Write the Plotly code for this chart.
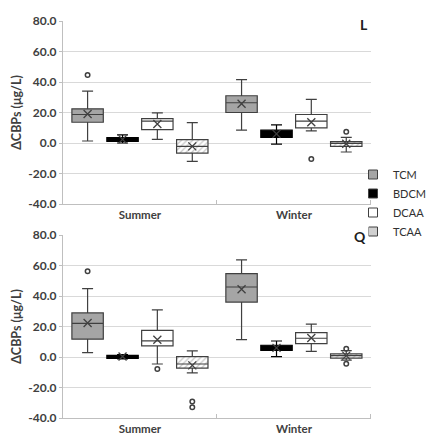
import plotly.graph_objects as go

seasons = ["Summer", "Winter"]
series = ["TCM", "BDCM", "DCAA", "TCAA"]

# Panel L: [series][season]
L_lower  = [[1.3, 8.4], [0.0, -0.7], [2.4, 7.9], [-12.0, -5.9]]
L_q1     = [[13.6, 20.0], [1.1, 3.7], [8.8, 9.9], [-6.6, -2.2]]
L_median = [[18.7, 26.4], [2.2, 6.0], [14.3, 14.3], [-2.2, -0.2]]
L_q3     = [[22.4, 31.0], [3.5, 8.4], [16.0, 18.7], [2.2, 0.9]]
L_upper  = [[34.0, 41.5], [5.3, 11.9], [19.8, 28.6], [13.4, 3.7]]
L_mean   = [[19.0, 25.7], [2.4, 6.0], [12.5, 13.6], [-2.2, -0.5]]
L_out_series = [0, 2, 3]
L_out_season = [0, 1, 1]
L_out_values = [44.6, -10.5, 7.3]

# Panel Q: [series][season]
Q_lower  = [[2.9, 11.4], [-1.3, 0.2], [-4.6, 3.7], [-10.4, -2.0]]
Q_q1     = [[11.7, 36.0], [-0.9, 4.4], [7.3, 8.8], [-7.3, -0.7]]
Q_median = [[22.0, 45.9], [0.2, 6.0], [10.6, 12.3], [-4.6, 0.9]]
Q_q3     = [[28.9, 54.7], [1.1, 7.7], [17.4, 16.0], [0.2, 2.0]]
Q_upper  = [[44.8, 63.7], [1.5, 10.5], [30.9, 21.5], [4.0, 4.2]]
Q_mean   = [[22.3, 44.4], [0.3, 6.0], [11.3, 12.5], [-5.5, 0.9]]
Q_out_series = [0, 2, 3, 3, 3, 3]
Q_out_season = [0, 0, 0, 0, 1, 1]
Q_out_values = [56.3, -7.9, -29.1, -32.9, 5.4, -4.4]

y_ticks = [-40, -20, 0, 20, 40, 60, 80]
y_ticktext = [f"{v:.1f}" for v in y_ticks]

# styling
offsets = [-0.34, -0.113, 0.113, 0.34]
box_w = 0.204
fills = ["#a5a5a5", "#000000", "#ffffff", "rgba(0,0,0,0)"]
legend_fills = ["#a5a5a5", "#000000", "#ffffff", "#d0d0d0"]
edge = "#404040"
font_family = "Lato, 'Open Sans', sans-serif"
txt = "#404040"

fig = go.Figure()

panels = [
    ("x", "y", L_lower, L_q1, L_median, L_q3, L_upper, L_mean, L_out_series, L_out_season, L_out_values),
    ("x2", "y2", Q_lower, Q_q1, Q_median, Q_q3, Q_upper, Q_mean, Q_out_series, Q_out_season, Q_out_values),
]

# hatch for TCAA (bars under boxes)
for xa, ya, lo, q1, med, q3, up, mn, os_, oss, ov in panels:
    k = 3
    pos = [i + offsets[k] for i in range(len(seasons))]
    fig.add_trace(go.Bar(
        x=pos, y=[q3[k][i] - q1[k][i] for i in range(len(seasons))],
        base=q1[k], width=box_w, xaxis=xa, yaxis=ya, showlegend=False,
        marker=dict(color="white", line=dict(width=0),
                    pattern=dict(shape="/", fgcolor="#8a8a8a", bgcolor="white", size=4, solidity=0.3)),
        hoverinfo="skip"))

for xa, ya, lo, q1, med, q3, up, mn, os_, oss, ov in panels:
    for k, name in enumerate(series):
        pos = [i + offsets[k] for i in range(len(seasons))]
        fig.add_trace(go.Box(
            x=pos, q1=q1[k], median=med[k], q3=q3[k],
            lowerfence=lo[k], upperfence=up[k],
            width=box_w, whiskerwidth=0.35, boxpoints=False,
            fillcolor=fills[k], line=dict(color=edge if k != 1 else "#000000", width=1.2),
            xaxis=xa, yaxis=ya, showlegend=False, name=name))

for xa, ya, lo, q1, med, q3, up, mn, os_, oss, ov in panels:
    mx, my = [], []
    for k in range(len(series)):
        for i in range(len(seasons)):
            mx.append(i + offsets[k])
            my.append(mn[k][i])
    fig.add_trace(go.Scatter(
        x=mx, y=my, mode="markers", xaxis=xa, yaxis=ya, showlegend=False,
        marker=dict(symbol="x-thin-open", size=8, color=edge, line=dict(color=edge, width=1.3)),
        hoverinfo="skip"))
    fig.add_trace(go.Scatter(
        x=[oss[j] + offsets[os_[j]] for j in range(len(ov))], y=ov,
        mode="markers", xaxis=xa, yaxis=ya, showlegend=False,
        marker=dict(symbol="circle-open", size=4.5, color=edge, line=dict(color=edge, width=1.5)),
        hoverinfo="skip"))

# legend entries
for k, name in enumerate(series):
    fig.add_trace(go.Scatter(
        x=[None], y=[None], mode="markers", name=name,
        marker=dict(symbol="square", size=9, color=legend_fills[k], line=dict(color=edge, width=1))))

W, H = 432, 436
xdom = [64 / W, 377 / W]
ydom_top = [1 - 204 / H, 1 - 21 / H]
ydom_bot = [1 - 418 / H, 1 - 235 / H]

xcommon = dict(range=[-0.5, 1.5], tickvals=list(range(len(seasons))), ticktext=seasons,
               showgrid=False, zeroline=False, showline=True, linecolor="#bfbfbf", linewidth=1,
               ticks="", automargin=False,
               tickfont=dict(family=font_family, size=11.5, color=txt, weight="bold"),
               minor=dict(tick0=0.5, dtick=1, ticks="inside", ticklen=4, tickcolor="#bfbfbf", showgrid=False),
               domain=xdom, fixedrange=True)
ycommon = dict(range=[-40, 80], tickvals=y_ticks, ticktext=y_ticktext,
               showgrid=True, gridcolor="#d9d9d9", gridwidth=1, zeroline=False,
               showline=True, linecolor="#bfbfbf", linewidth=1, automargin=False,
               ticks="outside", ticklen=3, tickcolor="#bfbfbf",
               tickfont=dict(family=font_family, size=12, color=txt, weight="bold"),
               title=dict(text="ΔCBPs (μg/L)", standoff=3,
                          font=dict(family=font_family, size=12.5, color=txt, weight="bold")),
               fixedrange=True)

fig.update_layout(
    width=W, height=H,
    margin=dict(l=0, r=0, t=0, b=0),
    paper_bgcolor="white", plot_bgcolor="white",
    barmode="overlay",
    xaxis=dict(**xcommon, anchor="y"),
    yaxis=dict(**ycommon, domain=ydom_top, anchor="x"),
    xaxis2=dict(**xcommon, anchor="y2"),
    yaxis2=dict(**ycommon, domain=ydom_bot, anchor="x2"),
    legend=dict(x=359 / W, y=1 - 160 / H, xanchor="left", yanchor="top",
                font=dict(family=font_family, size=11, color="#303030"),
                tracegroupgap=0, itemwidth=30, bgcolor="rgba(0,0,0,0)"),
    annotations=[
        dict(text="<b>L</b>", x=370 / W, y=1 - 24 / H, xref="paper", yref="paper",
             xanchor="center", yanchor="middle", bgcolor="white", borderpad=2,
             showarrow=False, font=dict(family=font_family, size=14, color="#202020")),
        dict(text="<b>Q</b>", x=366 / W, y=1 - 236 / H, xref="paper", yref="paper",
             xanchor="center", yanchor="middle", bgcolor="white", borderpad=2,
             showarrow=False, font=dict(family=font_family, size=14, color="#202020")),
    ],
    showlegend=True,
)

fig.write_html("out.html", config={"displayModeBar": False},
               post_script="document.body.style.margin='0px';")
